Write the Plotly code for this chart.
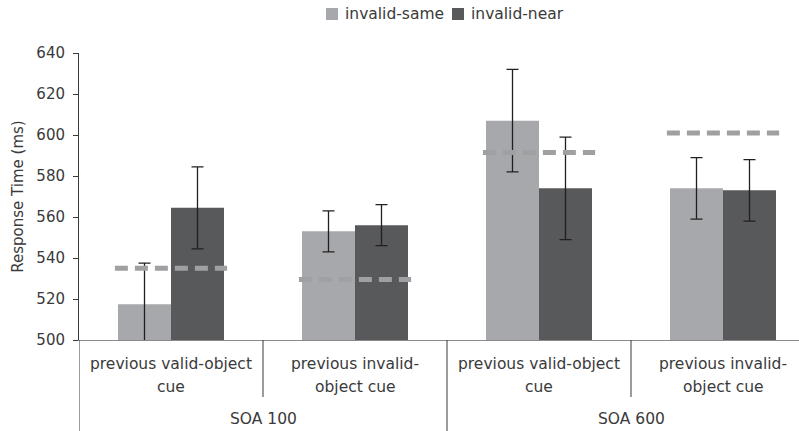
import plotly.graph_objects as go

# ---- data ----
soa_groups = ["SOA 100", "SOA 600"]
cue_labels = ["previous valid-object", "previous invalid-", "previous valid-object", "previous invalid-"]
cue_labels2 = ["cue", "object cue", "cue", "object cue"]
series_names = ["invalid-same", "invalid-near"]
invalid_same = [517.5, 553, 607, 574]
invalid_near = [564.5, 556, 574, 573]
err_same = [20, 10, 25, 15]
err_near = [20, 10, 25, 15]
dashed_ref = [535, 529.5, 591.5, 601]
y_ticks = [500, 520, 540, 560, 580, 600, 620, 640]

FONT = "DejaVu Sans"
TXT = "#3a3a3a"
C_SAME = "#a7a8ab"
C_NEAR = "#58595b"
C_DASH = "#9fa0a2"
C_ERR = "#231f20"

L, T, W, H = 79, 53, 720, 287  # plot area in px


def px_x(p):
    return (p - L) / W


def px_y(p):
    return (T + H - p) / H


xpos = list(range(len(invalid_same)))

fig = go.Figure()
fig.add_trace(go.Bar(
    x=xpos, y=invalid_same, name=series_names[0], marker_color=C_SAME,
    marker_line_width=0, showlegend=False,
    error_y=dict(type="data", array=err_same, color=C_ERR, thickness=1.3, width=6),
))
fig.add_trace(go.Bar(
    x=xpos, y=invalid_near, name=series_names[1], marker_color=C_NEAR,
    marker_line_width=0, showlegend=False,
    error_y=dict(type="data", array=err_near, color=C_ERR, thickness=1.3, width=6),
))
for i, v in enumerate(dashed_ref):
    fig.add_trace(go.Scatter(
        x=[i - 0.305, i + 0.305], y=[v, v], mode="lines",
        line=dict(color=C_DASH, width=5, dash="13px,7px"),
        showlegend=False, hoverinfo="skip",
    ))

shapes = []
shapes.append(dict(type="line", xref="x", yref="paper", x0=-0.5, x1=-0.5, y0=-0.35, y1=0,
                   line=dict(color="#3a3a3a", width=1)))
for k in range(1, len(xpos)):
    xb = k - 0.5
    y0 = -0.35 if k % 2 == 0 else px_y(397)
    shapes.append(dict(type="line", xref="x", yref="paper", x0=xb, x1=xb, y0=y0, y1=0,
                       line=dict(color="#3a3a3a", width=1)))

annotations = []
for i in xpos:
    annotations.append(dict(x=i, y=px_y(364), xref="x", yref="paper", text=cue_labels[i],
                            showarrow=False, xanchor="center", yanchor="middle",
                            font=dict(family=FONT, size=15.5, color=TXT)))
    annotations.append(dict(x=i, y=px_y(387), xref="x", yref="paper", text=cue_labels2[i],
                            showarrow=False, xanchor="center", yanchor="middle",
                            font=dict(family=FONT, size=15.5, color=TXT)))
for g, name in enumerate(soa_groups):
    annotations.append(dict(x=2 * g + 0.5, y=px_y(419), xref="x", yref="paper", text=name,
                            showarrow=False, xanchor="center", yanchor="middle",
                            font=dict(family=FONT, size=15.5, color=TXT)))

# custom legend (swatch + label)
legend_items = [(326, 343, C_SAME), (452, 469, C_NEAR)]
for (bx, tx, col), name in zip(legend_items, series_names):
    shapes.append(dict(type="rect", xref="paper", yref="paper",
                       x0=px_x(bx), x1=px_x(bx + 12), y0=px_y(20), y1=px_y(8),
                       fillcolor=col, line=dict(width=0)))
    annotations.append(dict(x=px_x(tx), y=px_y(14), xref="paper", yref="paper", text=name,
                            showarrow=False, xanchor="left", yanchor="middle",
                            font=dict(family=FONT, size=15.5, color=TXT)))

fig.update_layout(
    width=799, height=431,
    margin=dict(l=L, r=0, t=T, b=431 - T - H, autoexpand=False),
    paper_bgcolor="white", plot_bgcolor="white",
    barmode="group", bargap=0.424, bargroupgap=0,
    font=dict(family=FONT, size=15, color=TXT),
    showlegend=False,
    shapes=shapes,
    annotations=annotations,
)
fig.update_xaxes(range=[-0.5, -0.5 + W / 184], showticklabels=False, ticks="",
                 showline=True, linecolor="#8a8a8a", linewidth=1, showgrid=False,
                 zeroline=False, fixedrange=True, automargin=False)
fig.update_yaxes(range=[500, 640], tickvals=y_ticks, ticks="outside", ticklen=5,
                 tickcolor="#3a3a3a", showline=True, linecolor="#3a3a3a", linewidth=1,
                 showgrid=False, zeroline=False, ticklabelstandoff=5, automargin=False,
                 tickfont=dict(family=FONT, size=15, color=TXT),
                 title=dict(text="Response Time (ms)", standoff=9,
                            font=dict(family=FONT, size=15, color=TXT)))

fig.write_html("out.html", config={"displayModeBar": False},
               post_script="document.body.style.margin='0';document.body.style.overflow='hidden';")
